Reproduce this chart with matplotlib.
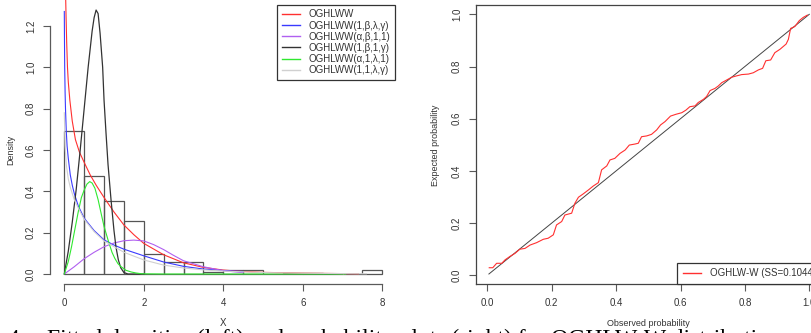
import matplotlib
matplotlib.use("Agg")
import matplotlib.pyplot as plt
import numpy as np

plt.rcParams['font.family'] = ['Liberation Sans', 'DejaVu Sans']

# ---------------- data ----------------
hist_edges = [0.0, 0.5, 1.0, 1.5, 2.0, 2.5, 3.0, 3.5, 4.0, 4.5, 5.0, 5.5, 6.0, 6.5, 7.0, 7.5, 8.0]
hist_heights = [0.693, 0.476, 0.355, 0.257, 0.099, 0.060, 0.057, 0.012,
                0.019, 0.019, 0.0, 0.005, 0.005, 0.0, 0.0, 0.019]

red_x = [0.035, 0.045, 0.06, 0.08, 0.1, 0.14, 0.2, 0.28, 0.38, 0.5, 0.65, 0.8, 1.0,
         1.25, 1.5, 1.75, 2.0, 2.5, 3.0, 3.5, 4.0, 4.5, 5.0, 5.5, 6.0, 6.5, 7.0, 7.4]
red_y = [1.33, 1.24, 1.12, 1.0, 0.93, 0.84, 0.74, 0.65, 0.59, 0.54, 0.48, 0.43, 0.37,
         0.30, 0.237, 0.19, 0.148, 0.093, 0.054, 0.032, 0.019, 0.012, 0.008, 0.006,
         0.004, 0.003, 0.002, 0.001]

blue_x = [0.0, 0.005, 0.01, 0.02, 0.03, 0.05, 0.07, 0.1, 0.15, 0.2, 0.25, 0.35, 0.5,
          0.75, 1.0, 1.25, 1.5, 2.0, 2.5, 3.0, 3.5, 4.0, 4.5]
blue_y = [1.27, 1.12, 1.0, 0.88, 0.8, 0.69, 0.62, 0.56, 0.48, 0.43, 0.39, 0.33, 0.27,
          0.21, 0.165, 0.14, 0.12, 0.088, 0.058, 0.037, 0.024, 0.017, 0.012]

purple_x = [0.0, 0.25, 0.5, 0.75, 1.0, 1.25, 1.5, 1.75, 2.0, 2.25, 2.5, 2.75, 3.0,
            3.5, 4.0, 4.5]
purple_y = [0.0, 0.035, 0.074, 0.105, 0.132, 0.150, 0.161, 0.164, 0.160, 0.142,
            0.118, 0.090, 0.064, 0.035, 0.016, 0.006]

black_x = [0.0, 0.1, 0.2, 0.3, 0.4, 0.5, 0.6, 0.7, 0.75, 0.8, 0.85, 0.9, 0.965, 1.0,
           1.05, 1.1, 1.175, 1.25, 1.3, 1.36, 1.42, 1.5, 1.6, 2.0]
black_y = [0.0, 0.11, 0.25, 0.41, 0.6, 0.8, 1.0, 1.175, 1.24, 1.277, 1.26, 1.165,
           1.0, 0.84, 0.68, 0.53, 0.36, 0.21, 0.13, 0.068, 0.03, 0.007, 0.0, 0.0]

green_x = [0.0, 0.1, 0.18, 0.27, 0.35, 0.43, 0.5, 0.57, 0.64, 0.7, 0.77, 0.85, 0.93,
           1.0, 1.1, 1.2, 1.27, 1.35, 1.43, 1.55, 1.68, 1.8, 1.95, 2.5, 3.5, 5.0, 6.0, 7.08]
green_y = [0.0, 0.06, 0.13, 0.22, 0.30, 0.37, 0.406, 0.435, 0.447, 0.44, 0.415, 0.36,
           0.29, 0.23, 0.165, 0.105, 0.076, 0.05, 0.035, 0.018, 0.01, 0.005, 0.001,
           0.0, 0.0, 0.0, 0.0, 0.0]

gray_x = [0.0, 0.02, 0.05, 0.1, 0.15, 0.25, 0.35, 0.5, 0.75, 1.0, 1.5, 2.0, 2.5, 3.0,
          3.5, 4.0, 5.0, 6.0, 7.0, 7.6]
gray_y = [0.78, 0.62, 0.53, 0.46, 0.42, 0.36, 0.32, 0.265, 0.205, 0.16, 0.105, 0.068,
          0.043, 0.029, 0.02, 0.014, 0.007, 0.004, 0.002, 0.001]

legend_labels = ['OGHLWW', 'OGHLWW(1,β,λ,γ)', 'OGHLWW(α,β,1,1)',
                 'OGHLWW(1,β,1,γ)', 'OGHLWW(α,1,λ,1)', 'OGHLWW(1,1,λ,γ)']

pp_obs = [0.006, 0.017, 0.029, 0.045, 0.055, 0.07, 0.086, 0.101, 0.117, 0.133, 0.153,
          0.174, 0.189, 0.205, 0.215, 0.231, 0.241, 0.262, 0.272, 0.283, 0.298, 0.314,
          0.329, 0.345, 0.355, 0.371, 0.381, 0.396, 0.412, 0.428, 0.441, 0.459, 0.469,
          0.479, 0.495, 0.51, 0.526, 0.538, 0.552, 0.569, 0.586, 0.604, 0.617, 0.629,
          0.645, 0.655, 0.671, 0.681, 0.692, 0.707, 0.717, 0.728, 0.743, 0.759, 0.774,
          0.79, 0.811, 0.826, 0.842, 0.855, 0.865, 0.88, 0.893, 0.909, 0.928, 0.935,
          0.942, 0.955, 0.969, 0.981, 0.994]
pp_exp = [0.029, 0.029, 0.046, 0.046, 0.059, 0.072, 0.084, 0.1, 0.103, 0.116, 0.125,
          0.138, 0.142, 0.155, 0.193, 0.206, 0.231, 0.238, 0.276, 0.299, 0.312, 0.327,
          0.342, 0.355, 0.404, 0.419, 0.442, 0.448, 0.467, 0.48, 0.499, 0.503, 0.506,
          0.531, 0.534, 0.54, 0.557, 0.576, 0.589, 0.61, 0.617, 0.623, 0.633, 0.646,
          0.649, 0.662, 0.674, 0.685, 0.708, 0.716, 0.725, 0.738, 0.748, 0.759, 0.764,
          0.769, 0.771, 0.776, 0.787, 0.793, 0.822, 0.825, 0.853, 0.866, 0.886, 0.904,
          0.946, 0.953, 0.976, 0.988, 0.997]
diag = [0.005, 1.0]
pp_label = 'OGHLW-W (SS=0.1044)'

caption_num = 'Figure 4.'
caption_text = 'Fitted densities (left) and probability plots (right) for OGHLW-W distributions'

# ---------------- layout ----------------
W, H = 811, 333
fig = plt.figure(figsize=(W / 100, H / 100), dpi=100)


def rect(l, t, r, b):
    return [l / W, 1 - b / H, (r - l) / W, (b - t) / H]


axis_col = '#5a5a5a'
text_col = '#333333'

# ---------------- left panel ----------------
ax1 = fig.add_axes(rect(50, 0, 397, 284))
ax1.bar(hist_edges[:-1], hist_heights, width=0.5, align='edge', fill=False,
        edgecolor='#555555', linewidth=0.9)
ax1.plot(red_x, red_y, color='#ff3030', lw=0.8)
ax1.plot(blue_x, blue_y, color='#3a3aff', lw=0.8)
ax1.plot(purple_x, purple_y, color='#b060f0', lw=0.8)
ax1.plot(black_x, black_y, color='#333333', lw=0.9)
ax1.plot(green_x, green_y, color='#30e830', lw=0.8)
ax1.plot(gray_x, gray_y, color='#d0d0d0', lw=0.8)

ax1.set_xlim(-(64.3 - 50) / 39.75, (397 - 64.3) / 39.75)
ax1.set_ylim(-(284 - 274) / 206.7, 274 / 206.7)
for s in ['top', 'right']:
    ax1.spines[s].set_visible(False)
ax1.spines['left'].set_bounds(0, 1.2)
ax1.spines['bottom'].set_bounds(0, 8)
for s in ['left', 'bottom']:
    ax1.spines[s].set_color(axis_col)
    ax1.spines[s].set_linewidth(0.9)
ax1.set_xticks([0, 2, 4, 6, 8])
ax1.set_xticklabels(['0', '2', '4', '6', '8'])
ax1.set_yticks([0.0, 0.2, 0.4, 0.6, 0.8, 1.0, 1.2])
ax1.set_yticklabels(['0.0', '0.2', '0.4', '0.6', '0.8', '1.0', '1.2'])
ax1.tick_params(direction='out', length=5, width=0.8, color=axis_col,
                labelsize=7, labelcolor=text_col, pad=5)
for lab in ax1.get_yticklabels():
    lab.set_rotation(90)
    lab.set_va('center')
ax1.set_facecolor('none')

handles = []
for c in ['#ff3030', '#3a3aff', '#b060f0', '#333333', '#30e830', '#d0d0d0']:
    handles.append(plt.Line2D([], [], color=c, lw=1.0))
leg1 = ax1.legend(handles, legend_labels, loc='upper right',
                  bbox_to_anchor=(395 / W, 1 - 5 / H), bbox_transform=fig.transFigure,
                  fontsize=7, frameon=True, fancybox=False, framealpha=1,
                  borderaxespad=0, handlelength=1.9, handletextpad=0.9,
                  labelspacing=0.12, borderpad=0.45)
leg1.get_frame().set_edgecolor('#333333')
leg1.get_frame().set_linewidth(0.9)
for t in leg1.get_texts():
    t.set_color(text_col)

fig.text(223 / W, 1 - 323 / H, 'X', ha='center', va='center', fontsize=7, color=text_col)
fig.text(11 / W, 1 - 150 / H, 'Density', ha='center', va='center', rotation=90,
         fontsize=6.5, color=text_col)

# ---------------- right panel ----------------
ax2 = fig.add_axes(rect(476, 5, 822, 284.3))
ax2.plot(diag, diag, color='#444444', lw=0.7)
ax2.plot(pp_obs, pp_exp, color='#ff3030', lw=0.8)
ax2.set_xlim((476 - 487.3) / 322, (822 - 487.3) / 322)
ax2.set_ylim((275.3 - 284.3) / 261, (275.3 - 5) / 261)
ticks = [0.0, 0.2, 0.4, 0.6, 0.8, 1.0]
tlabs = ['0.0', '0.2', '0.4', '0.6', '0.8', '1.0']
ax2.set_xticks(ticks)
ax2.set_xticklabels(tlabs)
ax2.set_yticks(ticks)
ax2.set_yticklabels(tlabs)
for s in ax2.spines.values():
    s.set_color('#444444')
    s.set_linewidth(0.9)
ax2.tick_params(direction='out', length=5, width=0.8, color=axis_col,
                labelsize=7, labelcolor=text_col, pad=5)
for lab in ax2.get_yticklabels():
    lab.set_rotation(90)
    lab.set_va('center')

leg2 = ax2.legend([plt.Line2D([], [], color='#ff3030', lw=1.0)], [pp_label],
                  loc='lower right', bbox_to_anchor=(1, 0), borderaxespad=0,
                  fontsize=7, frameon=True, fancybox=False, framealpha=1,
                  handlelength=1.9, handletextpad=0.9, borderpad=0.6)
leg2.get_frame().set_edgecolor('#333333')
leg2.get_frame().set_linewidth(0.9)
for t in leg2.get_texts():
    t.set_color(text_col)

fig.text(648 / W, 1 - 323 / H, 'Observed probability', ha='center', va='center',
         fontsize=6.5, color=text_col)
fig.text(435.7 / W, 1 - 145 / H, 'Expected probability', ha='center', va='center',
         rotation=90, fontsize=6.5, color=text_col)

# ---------------- caption (cropped at the bottom edge) ----------------
fig.text(25 / W, 1 - 345 / H, caption_num, ha='right', va='baseline',
         fontsize=17, family='Liberation Serif', color='black')
fig.text(47 / W, 1 - 345 / H, caption_text,
         ha='left', va='baseline', fontsize=17, family='Liberation Serif', color='black')

fig.savefig('out.png', dpi=100)
